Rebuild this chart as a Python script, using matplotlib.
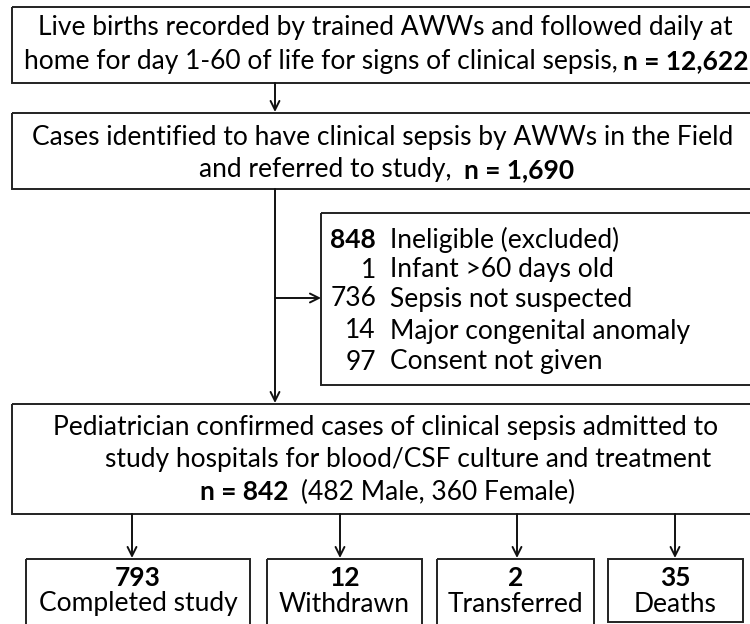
import matplotlib.pyplot as plt
import matplotlib.patches as patches

plt.rcParams['font.family'] = ['Lato', 'DejaVu Sans']

# flow numbers
n_births = "12,622"
n_referred = "1,690"
n_confirmed = 842
n_male = 482
n_female = 360

excl_counts = ["848", "1", "736", "14", "97"]
excl_labels = ["Ineligible (excluded)", "Infant >60 days old", "Sepsis not suspected",
               "Major congenital anomaly", "Consent not given"]

out_counts = ["793", "12", "2", "35"]
out_labels = ["Completed study", "Withdrawn", "Transferred", "Deaths"]

FS = 19


def box(ax, x0, y0, x1, y1):
    ax.add_patch(patches.Rectangle((x0, y0), x1 - x0, y1 - y0, fill=False,
                                   edgecolor='#222222', linewidth=1.4, clip_on=True))


def arrow(ax, x0, y0, x1, y1):
    ax.annotate('', xy=(x1, y1), xytext=(x0, y0),
                arrowprops=dict(arrowstyle='->', color='#111111', lw=1.4,
                                mutation_scale=16, shrinkA=0, shrinkB=0))


def width_px(t):
    bb = t.get_window_extent(renderer=fig.canvas.get_renderer())
    return bb.width


def two_part(ax, x_left, y, first, second, gap, first_bold):
    # place "first" then "second" starting at x_left, one of them bold
    t1 = ax.text(x_left, y, first, ha='left', va='center', fontsize=FS,
                 weight='bold' if first_bold else 'normal')
    w1 = width_px(t1)
    ax.text(x_left + w1 + gap, y, second, ha='left', va='center', fontsize=FS,
            weight='normal' if first_bold else 'bold')


fig = plt.figure(figsize=(7.5, 6.24), dpi=100)
ax = fig.add_axes([0, 0, 1, 1])
ax.set_xlim(0, 750)
ax.set_ylim(624, 0)
ax.axis('off')

# box 1
box(ax, 12, 7, 752, 83)
ax.text(385, 28, "Live births recorded by trained AWWs and followed daily at",
        ha='center', va='center', fontsize=FS)
tb = ax.text(749, 61, "n = " + n_births, ha='right', va='center', fontsize=FS, weight='bold')
ax.text(749 - width_px(tb) - 6, 61, "home for day 1-60 of life for signs of clinical sepsis,",
        ha='right', va='center', fontsize=FS)

arrow(ax, 275, 83, 275, 112)

# box 2
box(ax, 12, 113, 752, 189)
ax.text(383, 137, "Cases identified to have clinical sepsis by AWWs in the Field",
        ha='center', va='center', fontsize=FS)
two_part(ax, 199, 170, "and referred to study,", "n = " + n_referred, 12, False)

# main stem and exclusion branch
arrow(ax, 275, 189, 275, 403)
arrow(ax, 275, 298, 321, 298)

box(ax, 321, 213, 752, 385)
excl_y = [240, 270, 299, 331, 362]
for i in range(len(excl_counts)):
    ax.text(376, excl_y[i], excl_counts[i], ha='right', va='center', fontsize=FS,
            weight='bold' if i == 0 else 'normal')
    ax.text(390, excl_y[i], excl_labels[i], ha='left', va='center', fontsize=FS)

# box 3
box(ax, 12, 404, 752, 514)
ax.text(386, 428, "Pediatrician confirmed cases of clinical sepsis admitted to",
        ha='center', va='center', fontsize=FS)
ax.text(408, 460, "study hospitals for blood/CSF culture and treatment",
        ha='center', va='center', fontsize=FS)
two_part(ax, 200, 492, "n = %d" % n_confirmed,
         "(%d Male, %d Female)" % (n_male, n_female), 12, True)

# outcome boxes
out_x = [(26, 250), (267, 422), (437, 594), (608, 743)]
out_bottom = [640, 640, 640, 622]
arrow_x = [132, 340, 517, 675]
for i in range(len(out_counts)):
    arrow(ax, arrow_x[i], 514, arrow_x[i], 558)
    x0, x1 = out_x[i]
    box(ax, x0, 559, x1, out_bottom[i])
    cx = (x0 + x1) / 2
    ax.text(cx, 578, out_counts[i], ha='center', va='center', fontsize=FS, weight='bold')
    ax.text(cx, 604, out_labels[i], ha='center', va='center', fontsize=FS)

fig.savefig('out.png', dpi=100)
